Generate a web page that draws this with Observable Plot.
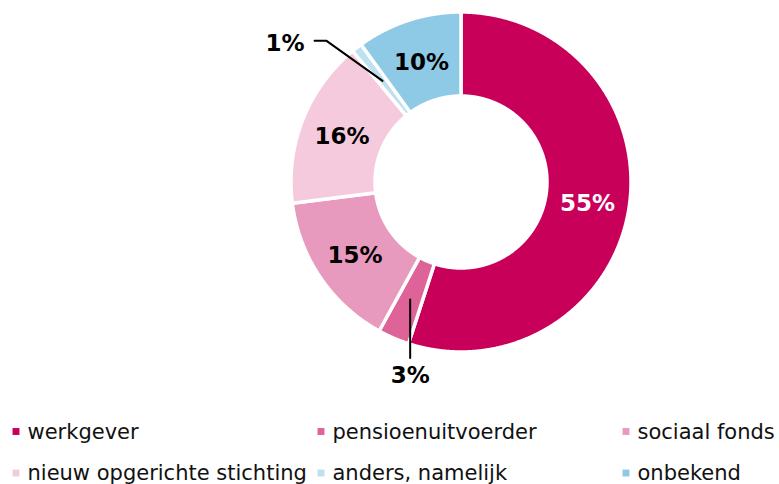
<!DOCTYPE html>
<html>
<head>
<meta charset="utf-8">
<script src="https://cdn.jsdelivr.net/npm/d3@7"></script>
<script src="https://cdn.jsdelivr.net/npm/@observablehq/plot@0.6"></script>
<style>
  html, body { margin: 0; padding: 0; background: #fff; }
  #chart svg { display: block; }
</style>
</head>
<body>
<div id="chart"></div>
<script>
// ---- data ----
const categories = ["werkgever", "pensioenuitvoerder", "sociaal fonds", "nieuw opgerichte stichting", "anders, namelijk", "onbekend"];
const values = [55, 3, 15, 16, 1, 10];
const colors = ["#C8005A", "#DD6399", "#E89ABE", "#F4CADC", "#BEE1F2", "#8ECAE6"];

// ---- layout ----
const W = 779, H = 484;
const cx = 460.5, cy = 181.5, R = 170, r0 = 86;
const rLabel = 128;
const font = "DejaVu Sans, Verdana, sans-serif";

const pie = d3.pie().sort(null).value(d => d.value)(
  categories.map((c, i) => ({cat: c, value: values[i]}))
);

// polygon points for each slice
const pts = [];
for (const a of pie) {
  const n = Math.max(4, Math.ceil((a.endAngle - a.startAngle) / 0.005));
  for (let k = 0; k <= n; k++) {
    const t = a.startAngle + (a.endAngle - a.startAngle) * k / n;
    pts.push({cat: a.data.cat, x: cx + R * Math.sin(t), y: cy - R * Math.cos(t)});
  }
  for (let k = n; k >= 0; k--) {
    const t = a.startAngle + (a.endAngle - a.startAngle) * k / n;
    pts.push({cat: a.data.cat, x: cx + r0 * Math.sin(t), y: cy - r0 * Math.cos(t)});
  }
}

// labels
const labels = pie.map((a, i) => {
  const m = (a.startAngle + a.endAngle) / 2;
  return {cat: a.data.cat, value: a.data.value, i,
          x: cx + rLabel * Math.sin(m), y: cy - rLabel * Math.cos(m)};
});
const inside = labels.filter(d => d.value >= 5);
const small3 = labels.find(d => d.value === 3);
const small1 = labels.find(d => d.value === 1);

const leaders = [
  // 3% : straight down
  {id: "a", x: small3.x, y: small3.y},
  {id: "a", x: small3.x, y: cy + R + 6},
  // 1% : up-left then horizontal
  {id: "b", x: small1.x, y: small1.y},
  {id: "b", x: small1.x - 56, y: small1.y - 40},
  {id: "b", x: small1.x - 68, y: small1.y - 40}
];
const below = [{text: small3.value + "%", x: small3.x, y: cy + R + 24}];
const left = [{text: small1.value + "%", x: small1.x - 78, y: small1.y - 37}];

// legend
const legend = categories.map((c, i) => ({
  cat: c,
  x: 15.5 + (i % 3) * 305,
  y: 431 + Math.floor(i / 3) * 41.5
}));

const chart = Plot.plot({
  width: W,
  height: H,
  margin: 0,
  x: {domain: [0, W], range: [0, W], axis: null},
  y: {domain: [0, H], range: [0, H], axis: null},
  color: {domain: categories, range: colors},
  style: {fontFamily: font, background: "#fff"},
  marks: [
    Plot.line(pts, {x: "x", y: "y", z: "cat", fill: "cat", stroke: "white", strokeWidth: 3.5, curve: "linear-closed"}),
    Plot.text(inside, {x: "x", y: d => d.y + 2, text: d => d.value + "%", fill: d => d.value > 50 ? "white" : "black",
      fontSize: 23, fontWeight: "bold", textAnchor: "middle", lineAnchor: "middle"}),
    Plot.line(leaders, {x: "x", y: "y", z: "id", stroke: "black", strokeWidth: 2}),
    Plot.text(below, {x: "x", y: "y", text: "text", textAnchor: "middle",
      fontSize: 23, fontWeight: "bold", fill: "black", lineAnchor: "middle"}),
    Plot.text(left, {x: "x", y: "y", text: "text", textAnchor: "end",
      fontSize: 23, fontWeight: "bold", fill: "black", lineAnchor: "middle"}),
    Plot.dot(legend, {x: "x", y: "y", fill: "cat", symbol: "square", r: 3.9}),
    Plot.text(legend, {x: d => d.x + 11.5, y: d => d.y + 0.5, text: "cat", textAnchor: "start",
      lineAnchor: "middle", fontSize: 21, fill: "#111"})
  ]
});
document.getElementById("chart").appendChild(chart);
</script>
</body>
</html>
